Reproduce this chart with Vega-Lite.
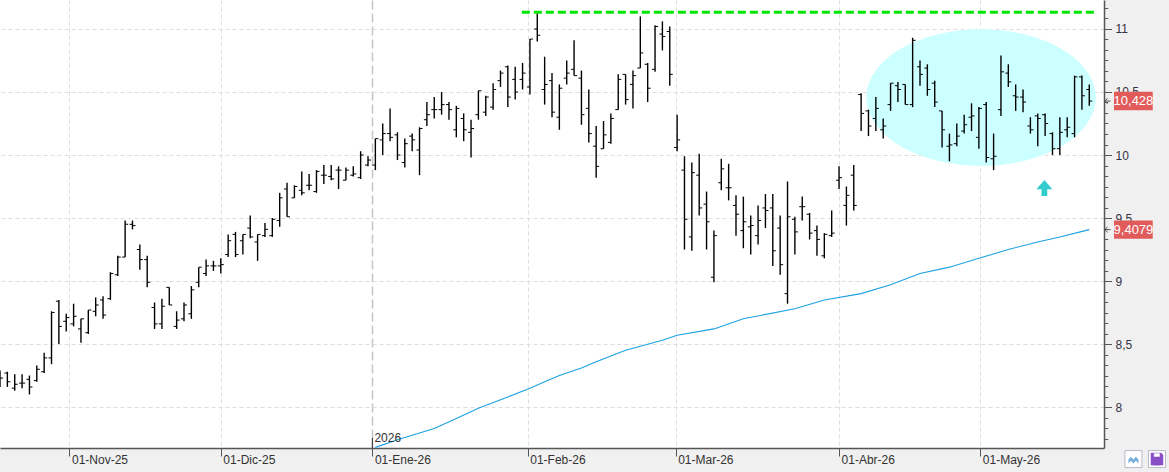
{
"$schema": "https://vega.github.io/schema/vega-lite/v6.json",
"width": 1104, "height": 448,
"autosize": {"type": "none"},
"padding": {"left": 0, "top": 0, "right": 65, "bottom": 24},
"background": "#f0f0f0",
"config": {"view": {"fill": "white", "stroke": null}, "font": "Liberation Sans"},
"resolve": {"axis": {"y": "independent"}},
"datasets": {
"bars": [
{"i":0,"o":8.25,"h":8.29,"l":8.16,"c":8.23},{"i":1,"o":8.27,"h":8.28,"l":8.16,"c":8.2},{"i":2,"o":8.15,"h":8.26,"l":8.13,"c":8.18},{"i":3,"o":8.19,"h":8.26,"l":8.15,"c":8.19},{"i":4,"o":8.22,"h":8.25,"l":8.1,"c":8.16},
{"i":5,"o":8.21,"h":8.33,"l":8.2,"c":8.3},{"i":6,"o":8.28,"h":8.43,"l":8.27,"c":8.39},{"i":7,"o":8.39,"h":8.76,"l":8.34,"c":8.75},{"i":8,"o":8.84,"h":8.85,"l":8.5,"c":8.64},{"i":9,"o":8.68,"h":8.74,"l":8.6,"c":8.71},
{"i":10,"o":8.66,"h":8.82,"l":8.64,"c":8.72},{"i":11,"o":8.62,"h":8.7,"l":8.51,"c":8.7},{"i":12,"o":8.59,"h":8.77,"l":8.58,"c":8.77},{"i":13,"o":8.76,"h":8.87,"l":8.72,"c":8.81},{"i":14,"o":8.85,"h":8.88,"l":8.7,"c":8.73},
{"i":15,"o":8.86,"h":9.07,"l":8.85,"c":9.06},{"i":16,"o":9.05,"h":9.2,"l":9.04,"c":9.19},{"i":17,"o":9.19,"h":9.48,"l":9.19,"c":9.45},{"i":18,"o":9.45,"h":9.48,"l":9.41,"c":9.44},{"i":19,"o":9.25,"h":9.29,"l":9.09,"c":9.17},
{"i":20,"o":9.17,"h":9.2,"l":8.95,"c":8.99},{"i":21,"o":8.79,"h":8.83,"l":8.62,"c":8.66},{"i":22,"o":8.66,"h":8.86,"l":8.62,"c":8.8},{"i":23,"o":8.95,"h":8.95,"l":8.81,"c":8.81},{"i":24,"o":8.64,"h":8.76,"l":8.62,"c":8.69},
{"i":25,"o":8.7,"h":8.83,"l":8.68,"c":8.81},{"i":26,"o":8.74,"h":8.96,"l":8.7,"c":8.93},{"i":27,"o":8.99,"h":9.11,"l":8.95,"c":9.11},{"i":28,"o":9.06,"h":9.17,"l":9.04,"c":9.12},{"i":29,"o":9.12,"h":9.16,"l":9.08,"c":9.12},
{"i":30,"o":9.12,"h":9.18,"l":9.06,"c":9.13},{"i":31,"o":9.21,"h":9.37,"l":9.19,"c":9.32},{"i":32,"o":9.37,"h":9.39,"l":9.19,"c":9.21},{"i":33,"o":9.32,"h":9.37,"l":9.21,"c":9.37},{"i":34,"o":9.42,"h":9.52,"l":9.34,"c":9.35},
{"i":35,"o":9.31,"h":9.37,"l":9.16,"c":9.37},{"i":36,"o":9.36,"h":9.46,"l":9.35,"c":9.41},{"i":37,"o":9.36,"h":9.5,"l":9.35,"c":9.49},{"i":38,"o":9.48,"h":9.7,"l":9.43,"c":9.66},{"i":39,"o":9.73,"h":9.78,"l":9.51,"c":9.51},
{"i":40,"o":9.66,"h":9.76,"l":9.66,"c":9.75},{"i":41,"o":9.72,"h":9.87,"l":9.68,"c":9.7},{"i":42,"o":9.76,"h":9.85,"l":9.72,"c":9.76},{"i":43,"o":9.71,"h":9.88,"l":9.7,"c":9.87},{"i":44,"o":9.84,"h":9.92,"l":9.77,"c":9.84},
{"i":45,"o":9.83,"h":9.92,"l":9.8,"c":9.81},{"i":46,"o":9.88,"h":9.91,"l":9.73,"c":9.88},{"i":47,"o":9.8,"h":9.9,"l":9.8,"c":9.88},{"i":48,"o":9.84,"h":9.91,"l":9.83,"c":9.85},{"i":49,"o":9.82,"h":10.03,"l":9.81,"c":10.0},
{"i":50,"o":9.92,"h":9.99,"l":9.91,"c":9.96},{"i":51,"o":9.92,"h":10.13,"l":9.88,"c":10.13},{"i":52,"o":10.12,"h":10.25,"l":10.0,"c":10.17},{"i":53,"o":10.17,"h":10.37,"l":10.11,"c":10.14},{"i":54,"o":10.16,"h":10.18,"l":9.96,"c":10.0},
{"i":55,"o":9.94,"h":10.13,"l":9.9,"c":10.09},{"i":56,"o":10.15,"h":10.17,"l":10.03,"c":10.12},{"i":57,"o":10.04,"h":10.22,"l":9.84,"c":10.21},{"i":58,"o":10.28,"h":10.42,"l":10.23,"c":10.32},{"i":59,"o":10.36,"h":10.46,"l":10.29,"c":10.36},
{"i":60,"o":10.36,"h":10.5,"l":10.32,"c":10.4},{"i":61,"o":10.4,"h":10.42,"l":10.28,"c":10.36},{"i":62,"o":10.2,"h":10.39,"l":10.14,"c":10.37},{"i":63,"o":10.29,"h":10.33,"l":10.11,"c":10.2},{"i":64,"o":10.18,"h":10.28,"l":9.98,"c":10.21},
{"i":65,"o":10.32,"h":10.51,"l":10.28,"c":10.51},{"i":66,"o":10.34,"h":10.47,"l":10.31,"c":10.46},{"i":67,"o":10.38,"h":10.57,"l":10.36,"c":10.52},{"i":68,"o":10.59,"h":10.67,"l":10.54,"c":10.65},{"i":69,"o":10.7,"h":10.71,"l":10.38,"c":10.46},
{"i":70,"o":10.6,"h":10.7,"l":10.44,"c":10.5},{"i":71,"o":10.6,"h":10.73,"l":10.52,"c":10.65},{"i":72,"o":10.54,"h":10.92,"l":10.48,"c":10.92},{"i":73,"o":11.0,"h":11.12,"l":10.9,"c":10.95},{"i":74,"o":10.52,"h":10.78,"l":10.4,"c":10.56},
{"i":75,"o":10.59,"h":10.65,"l":10.3,"c":10.34},{"i":76,"o":10.3,"h":10.56,"l":10.2,"c":10.53},{"i":77,"o":10.61,"h":10.75,"l":10.56,"c":10.65},{"i":78,"o":10.68,"h":10.91,"l":10.63,"c":10.63},{"i":79,"o":10.61,"h":10.67,"l":10.24,"c":10.32},
{"i":80,"o":10.37,"h":10.52,"l":10.1,"c":10.17},{"i":81,"o":10.07,"h":10.23,"l":9.82,"c":9.91},{"i":82,"o":10.05,"h":10.27,"l":10.05,"c":10.16},{"i":83,"o":10.1,"h":10.33,"l":10.09,"c":10.29},{"i":84,"o":10.36,"h":10.64,"l":10.36,"c":10.6},
{"i":85,"o":10.64,"h":10.64,"l":10.4,"c":10.44},{"i":86,"o":10.56,"h":10.67,"l":10.37,"c":10.63},{"i":87,"o":10.69,"h":11.1,"l":10.69,"c":10.81},{"i":88,"o":10.72,"h":10.73,"l":10.42,"c":10.53},{"i":89,"o":10.68,"h":11.03,"l":10.66,"c":11.02},
{"i":90,"o":10.96,"h":11.06,"l":10.83,"c":10.94},{"i":91,"o":10.98,"h":11.02,"l":10.55,"c":10.64},{"i":92,"o":10.06,"h":10.32,"l":10.03,"c":10.12},{"i":93,"o":9.88,"h":9.99,"l":9.25,"c":9.49},{"i":94,"o":9.35,"h":9.94,"l":9.24,"c":9.86},
{"i":95,"o":9.84,"h":10.01,"l":9.52,"c":9.58},{"i":96,"o":9.61,"h":9.71,"l":9.25,"c":9.47},{"i":97,"o":9.03,"h":9.4,"l":8.99,"c":9.36},{"i":98,"o":9.78,"h":9.97,"l":9.72,"c":9.89},{"i":99,"o":9.74,"h":9.93,"l":9.64,"c":9.74},
{"i":100,"o":9.6,"h":9.68,"l":9.36,"c":9.53},{"i":101,"o":9.4,"h":9.67,"l":9.26,"c":9.47},{"i":102,"o":9.43,"h":9.52,"l":9.21,"c":9.44},{"i":103,"o":9.36,"h":9.6,"l":9.29,"c":9.48},{"i":104,"o":9.58,"h":9.69,"l":9.42,"c":9.56},
{"i":105,"o":9.58,"h":9.69,"l":9.12,"c":9.24},{"i":106,"o":9.42,"h":9.52,"l":9.05,"c":9.13},{"i":107,"o":8.9,"h":9.79,"l":8.82,"c":9.51},{"i":108,"o":9.49,"h":9.51,"l":9.21,"c":9.39},{"i":109,"o":9.59,"h":9.67,"l":9.48,"c":9.59},
{"i":110,"o":9.53,"h":9.54,"l":9.33,"c":9.38},{"i":111,"o":9.4,"h":9.44,"l":9.2,"c":9.33},{"i":112,"o":9.2,"h":9.38,"l":9.18,"c":9.37},{"i":113,"o":9.36,"h":9.56,"l":9.35,"c":9.38},{"i":114,"o":9.8,"h":9.91,"l":9.73,"c":9.82},
{"i":115,"o":9.6,"h":9.75,"l":9.44,"c":9.68},{"i":116,"o":9.84,"h":9.92,"l":9.56,"c":9.6},{"i":117,"o":10.48,"h":10.49,"l":10.19,"c":10.33},{"i":118,"o":10.35,"h":10.36,"l":10.15,"c":10.23},{"i":119,"o":10.29,"h":10.46,"l":10.19,"c":10.37},
{"i":120,"o":10.2,"h":10.29,"l":10.13,"c":10.23},{"i":121,"o":10.4,"h":10.57,"l":10.35,"c":10.57},{"i":122,"o":10.55,"h":10.58,"l":10.42,"c":10.52},{"i":123,"o":10.56,"h":10.56,"l":10.4,"c":10.4},{"i":124,"o":10.4,"h":10.93,"l":10.38,"c":10.91},
{"i":125,"o":10.7,"h":10.75,"l":10.55,"c":10.64},{"i":126,"o":10.69,"h":10.72,"l":10.47,"c":10.52},{"i":127,"o":10.57,"h":10.59,"l":10.38,"c":10.42},{"i":128,"o":10.35,"h":10.35,"l":10.06,"c":10.2},{"i":129,"o":10.07,"h":10.17,"l":9.95,"c":10.08},
{"i":130,"o":10.09,"h":10.25,"l":10.07,"c":10.15},{"i":131,"o":10.19,"h":10.32,"l":10.17,"c":10.24},{"i":132,"o":10.3,"h":10.41,"l":10.19,"c":10.31},{"i":133,"o":10.14,"h":10.38,"l":10.05,"c":10.37},{"i":134,"o":10.4,"h":10.42,"l":9.94,"c":9.98},
{"i":135,"o":9.97,"h":10.17,"l":9.88,"c":9.99},{"i":136,"o":10.36,"h":10.79,"l":10.31,"c":10.66},{"i":137,"o":10.65,"h":10.72,"l":10.54,"c":10.58},{"i":138,"o":10.47,"h":10.56,"l":10.35,"c":10.46},{"i":139,"o":10.46,"h":10.52,"l":10.34,"c":10.42},
{"i":140,"o":10.23,"h":10.3,"l":10.17,"c":10.2},{"i":141,"o":10.31,"h":10.33,"l":10.07,"c":10.29},{"i":142,"o":10.32,"h":10.33,"l":10.15,"c":10.25},{"i":143,"o":10.17,"h":10.18,"l":10.0,"c":10.05},{"i":144,"o":10.05,"h":10.3,"l":10.0,"c":10.18},
{"i":145,"o":10.2,"h":10.3,"l":10.14,"c":10.22},{"i":146,"o":10.17,"h":10.63,"l":10.14,"c":10.62},{"i":147,"o":10.62,"h":10.63,"l":10.36,"c":10.47},{"i":148,"o":10.52,"h":10.56,"l":10.39,"c":10.428}
],
"ma": [
{"i":51,"ma":7.68},{"i":54,"ma":7.74},{"i":59,"ma":7.83},{"i":62,"ma":7.91},{"i":65,"ma":7.99},{"i":69,"ma":8.08},{"i":72,"ma":8.15},{"i":74,"ma":8.2},{"i":76,"ma":8.25},{"i":79,"ma":8.31},{"i":81,"ma":8.36},{"i":85,"ma":8.45},{"i":90,"ma":8.53},{"i":92,"ma":8.57},{"i":97,"ma":8.62},{"i":101,"ma":8.7},{"i":108,"ma":8.78},{"i":112,"ma":8.85},{"i":117,"ma":8.9},{"i":121,"ma":8.97},{"i":125,"ma":9.06},{"i":129,"ma":9.11},{"i":133,"ma":9.18},{"i":137,"ma":9.25},{"i":141,"ma":9.31},{"i":144,"ma":9.35},{"i":148,"ma":9.4079}
],
"tags": [{"v":10.428,"t":"10,428"},{"v":9.4079,"t":"9,4079"}],
"buttons": [{"b":154.0,"v":7.587},{"b":157.2,"v":7.587}]
},
"layer": [
{
"data": {"values": [{"i": 133.3, "v": 10.456}]},
"mark": {"type": "point", "shape": "M -1 0 A 1 0.595 0 1 1 1 0 A 1 0.595 0 1 1 -1 0 Z", "size": 52624, "filled": true, "fill": "#ccffff", "opacity": 1, "strokeWidth": 0},
"encoding": {
"x": {"field": "i", "type": "quantitative", "scale": {"domain": [0, 150], "nice": false, "zero": false},
 "axis": {"orient": "bottom", "title": null, "values": [9.44, 30, 50.6, 71.7, 91.8, 114, 133.2],
  "labelExpr": "datum.value < 20 ? '01-Nov-25' : datum.value < 40 ? '01-Dic-25' : datum.value < 60 ? '01-Ene-26' : datum.value < 80 ? '01-Feb-26' : datum.value < 100 ? '01-Mar-26' : datum.value < 120 ? '01-Abr-26' : '01-May-26'",
  "labelAlign": "left", "labelBaseline": "top", "labelPadding": -2, "labelOffset": 2, "labelFontSize": 12, "labelColor": "#333333", "labelFont": "Liberation Sans", "labelOverlap": false, "labelFlush": false,
  "domainColor": "#555555", "domainWidth": 1.5, "tickColor": "#555555", "tickSize": 8, "tickWidth": 1,
  "grid": true, "gridColor": {"condition": {"test": "datum.value == 50.6", "value": "#c4c4c4"}, "value": "#dddddd"},
  "gridDash": {"condition": {"test": "datum.value == 50.6", "value": [9, 4]}, "value": [4, 3]},
  "gridWidth": {"condition": {"test": "datum.value == 50.6", "value": 1.5}, "value": 1}}},
"y": {"field": "v", "type": "quantitative", "scale": {"domain": [7.675, 11.23], "nice": false, "zero": false},
 "axis": {"orient": "right", "title": null, "values": [8, 8.5, 9, 9.5, 10, 10.5, 11], "format": "~g",
  "labelExpr": "replace(datum.label, '.', ',')",
  "labelOverlap": false, "labelFlush": false, "labelPadding": 3.5, "labelFontSize": 12, "labelColor": "#333344", "labelFont": "Liberation Sans", "labelAlign": "left", "labelBaseline": "middle",
  "domainColor": "#555555", "domainWidth": 1.5, "tickColor": "#555555", "tickWidth": 1, "tickSize": 7.5,
  "grid": true, "gridColor": "#dddddd", "gridDash": [4, 3]}}
}
},
{
"data": {"values": [{"x1": 70.9, "x2": 148.8, "v": 11.133}]},
"mark": {"type": "rule", "color": "#00e600", "strokeWidth": 3, "strokeDash": [8, 4]},
"encoding": {"x": {"field": "x1", "type": "quantitative"}, "x2": {"field": "x2"},
 "y": {"field": "v", "type": "quantitative",
  "axis": {"orient": "right", "title": null, "labels": false, "grid": false, "domain": false, "tickColor": "#555555", "tickWidth": 1, "tickSize": 3.7,
   "values": [7.75, 7.8333, 7.9167, 8.0833, 8.1667, 8.25, 8.3333, 8.4167, 8.5833, 8.6667, 8.75, 8.8333, 8.9167, 9.0833, 9.1667, 9.25, 9.3333, 9.4167, 9.5833, 9.6667, 9.75, 9.8333, 9.9167, 10.0833, 10.1667, 10.25, 10.3333, 10.4167, 10.5833, 10.6667, 10.75, 10.8333, 10.9167, 11.0833, 11.1667]}}}
},
{
"data": {"name": "ma"},
"mark": {"type": "line", "color": "#1ba1e2", "strokeWidth": 1.1},
"encoding": {"x": {"field": "i", "type": "quantitative"}, "y": {"field": "ma", "type": "quantitative", "axis": null}}
},
{
"data": {"name": "bars"},
"mark": {"type": "rule", "color": "#000000", "strokeWidth": 1.4},
"encoding": {"x": {"field": "i", "type": "quantitative"}, "y": {"field": "l", "type": "quantitative", "axis": null}, "y2": {"field": "h"}}
},
{
"data": {"name": "bars"},
"mark": {"type": "tick", "orient": "horizontal", "size": 3, "thickness": 1, "xOffset": -1.5, "color": "#000000", "opacity": 1},
"encoding": {"x": {"field": "i", "type": "quantitative"}, "y": {"field": "o", "type": "quantitative", "axis": null}}
},
{
"data": {"name": "bars"},
"mark": {"type": "tick", "orient": "horizontal", "size": 3, "thickness": 1, "xOffset": 1.5, "color": "#000000", "opacity": 1},
"encoding": {"x": {"field": "i", "type": "quantitative"}, "y": {"field": "c", "type": "quantitative", "axis": null}}
},
{
"data": {"values": [{"i": 141.9, "v": 9.738}]},
"mark": {"type": "point", "shape": "M 0 -1 L 1 0.15 L 0.36 0.15 L 0.36 1 L -0.36 1 L -0.36 0.15 L -1 0.15 Z", "size": 256, "filled": true, "fill": "#33cccc", "opacity": 1, "strokeWidth": 0},
"encoding": {"x": {"field": "i", "type": "quantitative"}, "y": {"field": "v", "type": "quantitative", "axis": null}}
},
{
"data": {"values": [{"i": 50.6, "t": "2026", "y1": 7.675, "y2": 7.755}]},
"mark": {"type": "rule", "color": "#444444", "strokeWidth": 1.2},
"encoding": {"x": {"field": "i", "type": "quantitative"}, "y": {"field": "y1", "type": "quantitative", "axis": null}, "y2": {"field": "y2"}}
},
{
"data": {"values": [{"i": 50.6, "t": "2026", "y1": 7.675, "y2": 7.755}]},
"mark": {"type": "text", "align": "left", "baseline": "middle", "dx": 2, "fontSize": 12, "color": "#333333", "font": "Liberation Sans"},
"encoding": {"x": {"field": "i", "type": "quantitative"}, "y": {"field": "y2", "type": "quantitative", "axis": null}, "text": {"field": "t"}}
},
{
"data": {"name": "tags"},
"mark": {"type": "rect", "color": "#e25b5b", "opacity": 1, "yOffset": -9.2, "y2Offset": 9.2},
"encoding": {"x": {"datum": 151.36, "type": "quantitative"}, "x2": {"datum": 156.62}, "y": {"field": "v", "type": "quantitative", "axis": null}, "y2": {"field": "v"}}
},
{
"data": {"name": "tags"},
"mark": {"type": "text", "align": "center", "baseline": "middle", "fontSize": 13, "color": "#ffffff", "font": "'Liberation Sans Narrow', 'Liberation Sans'"},
"encoding": {"x": {"datum": 154, "type": "quantitative"}, "y": {"field": "v", "type": "quantitative", "axis": null}, "text": {"field": "t"}}
},
{
"data": {"name": "tags"},
"mark": {"type": "point", "shape": "M 1 0 L -1 0 M 0 -0.9 L -1 0 L 0 0.9", "size": 36, "filled": false, "stroke": "#555555", "strokeWidth": 1, "opacity": 1},
"encoding": {"x": {"datum": 150.5, "type": "quantitative"}, "y": {"field": "v", "type": "quantitative", "axis": null}}
},
{
"data": {"name": "buttons"},
"mark": {"type": "point", "shape": "square", "size": 289, "filled": true, "fill": "#ffffff", "stroke": "#b8b8c8", "strokeWidth": 1, "opacity": 1},
"encoding": {"x": {"field": "b", "type": "quantitative"}, "y": {"field": "v", "type": "quantitative", "axis": null}}
},
{
"data": {"values": [{"b": 154.0, "v": 7.587}]},
"mark": {"type": "point", "shape": "M -1 0.3 L -0.5 -0.3 L 0 0.3 L 0.5 -0.3 L 1 0.3 M -1 0.7 L -0.5 0.1 L 0 0.7 L 0.5 0.1 L 1 0.7", "size": 100, "filled": false, "stroke": "#6aa8d8", "strokeWidth": 1.2, "opacity": 1},
"encoding": {"x": {"field": "b", "type": "quantitative"}, "y": {"field": "v", "type": "quantitative", "axis": null}}
},
{
"data": {"values": [{"b": 157.2, "v": 7.587}]},
"mark": {"type": "point", "shape": "M -1 -1 L 0.7 -1 L 1 -0.7 L 1 1 L -1 1 Z M -0.55 -1 L -0.55 -0.35 L 0.5 -0.35 L 0.5 -1 M -0.55 0.2 L 0.55 0.2 L 0.55 1 L -0.55 1 Z", "size": 144, "filled": true, "fill": "#8a4fc7", "fillRule": "evenodd", "stroke": "#8a4fc7", "strokeWidth": 0.5, "opacity": 1},
"encoding": {"x": {"field": "b", "type": "quantitative"}, "y": {"field": "v", "type": "quantitative", "axis": null}}
}
]
}
